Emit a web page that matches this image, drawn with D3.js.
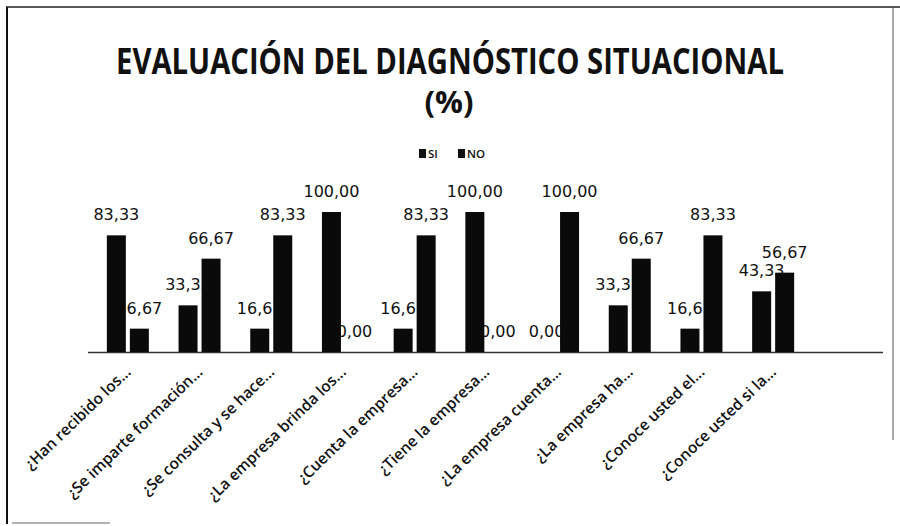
<!DOCTYPE html>
<html>
<head>
<meta charset="utf-8">
<script src="https://cdn.jsdelivr.net/npm/d3@7/dist/d3.min.js"></script>
<style>
  body { margin: 0; background: #fff; }
  svg { display: block; }
</style>
</head>
<body>
<script>
var preguntas = ['¿Han recibido los...', '¿Se imparte formación...', '¿Se consulta y se hace...',
  '¿La empresa brinda los...', '¿Cuenta la empresa...', '¿Tiene la empresa...',
  '¿La empresa cuenta...', '¿La empresa ha...', '¿Conoce usted el...', '¿Conoce usted si la...'];
var si = [83.33, 33.33, 16.67, 100.00, 16.67, 100.00, 0.00, 33.33, 16.67, 43.33];
var no = [16.67, 66.67, 83.33, 0.00, 83.33, 0.00, 100.00, 66.67, 83.33, 56.67];
var series = ['SI', 'NO'];

var svgwidth = 900, svgheight = 526;

var svg = d3.select('body').append('svg')
  .attr('width', svgwidth)
  .attr('height', svgheight);

// scanned frame
svg.append('line').attr('x1', 7).attr('x2', 7).attr('y1', 7).attr('y2', 524)
  .attr('stroke', '#111').attr('stroke-width', 2);
svg.append('line').attr('x1', 6).attr('x2', 900).attr('y1', 7).attr('y2', 7)
  .attr('stroke', '#222').attr('stroke-width', 1.5);
svg.append('line').attr('x1', 893).attr('x2', 893).attr('y1', 7).attr('y2', 440)
  .attr('stroke', '#555').attr('stroke-width', 1);
svg.append('line').attr('x1', 12).attr('x2', 110).attr('y1', 523).attr('y2', 523)
  .attr('stroke', '#999').attr('stroke-width', 1.5);

// titulo (condensed via horizontal scale)
svg.append('text')
  .attr('transform', 'translate(450,74) scale(0.835,1)')
  .attr('text-anchor', 'middle')
  .attr('font-family', 'Open Sans')
  .attr('font-weight', 'bold')
  .attr('font-size', 35)
  .attr('fill', '#111')
  .text('EVALUACIÓN DEL DIAGNÓSTICO SITUACIONAL');
svg.append('text')
  .attr('x', 449).attr('y', 113)
  .attr('text-anchor', 'middle')
  .attr('font-family', 'Open Sans')
  .attr('font-weight', 'bold')
  .attr('font-size', 31)
  .attr('fill', '#111')
  .text('(%)');

// leyenda
var legend = svg.selectAll('.legend').data(series).enter()
  .append('g')
  .attr('transform', function(d, i) { return 'translate(' + (419 + i * 39) + ',149)'; });
legend.append('rect')
  .attr('width', 7).attr('height', 9)
  .attr('fill', '#111');
legend.append('text')
  .attr('x', 9).attr('y', 9)
  .attr('font-family', 'Open Sans')
  .attr('font-weight', 600)
  .attr('font-size', 11.5)
  .attr('fill', '#111')
  .text(function(d) { return d; });

var base = 352;

var xscale = d3.scaleBand()
  .domain(preguntas)
  .range([92, 809]);

var yscale = d3.scaleLinear()
  .domain([0, 100])
  .range([base, 212]);

var bw = 19;
var offs = [-21, 2];

// eje
svg.append('line')
  .attr('x1', 88).attr('x2', 883)
  .attr('y1', base + 0.5).attr('y2', base + 0.5)
  .attr('stroke', '#333').attr('stroke-width', 1.5);

var fmt = function(v) { return v.toFixed(2).replace('.', ','); };

// etiquetas de datos (debajo de las barras)
[si, no].forEach(function(vals, s) {
  svg.selectAll('.lbl' + s).data(vals).enter()
    .append('text')
    .attr('x', function(d, i) { return xscale(preguntas[i]) + xscale.bandwidth() / 2 + offs[s] + bw / 2; })
    .attr('y', function(d) { return yscale(d) - 15; })
    .attr('text-anchor', 'middle')
    .attr('font-family', 'DejaVu Sans')
    .attr('font-size', 16)
    .attr('fill', '#111')
    .text(fmt);
});

[si, no].forEach(function(vals, s) {
  svg.selectAll('.bar' + s).data(vals).enter()
    .append('rect')
    .attr('x', function(d, i) { return xscale(preguntas[i]) + xscale.bandwidth() / 2 + offs[s]; })
    .attr('y', function(d) { return yscale(d); })
    .attr('width', bw)
    .attr('height', function(d) { return base - yscale(d); })
    .attr('fill', '#0a0a0a');
});

// categorias
svg.selectAll('.cat').data(preguntas).enter()
  .append('text')
  .attr('transform', function(d) {
    return 'translate(' + (xscale(d) + xscale.bandwidth() / 2 + 4) + ',' + (base + 21) + ') rotate(-44)';
  })
  .attr('text-anchor', 'end')
  .attr('font-family', 'Open Sans')
  .attr('font-weight', 600)
  .attr('font-size', 15.5)
  .attr('fill', '#111')
  .text(function(d) { return d; });
</script>
</body>
</html>
